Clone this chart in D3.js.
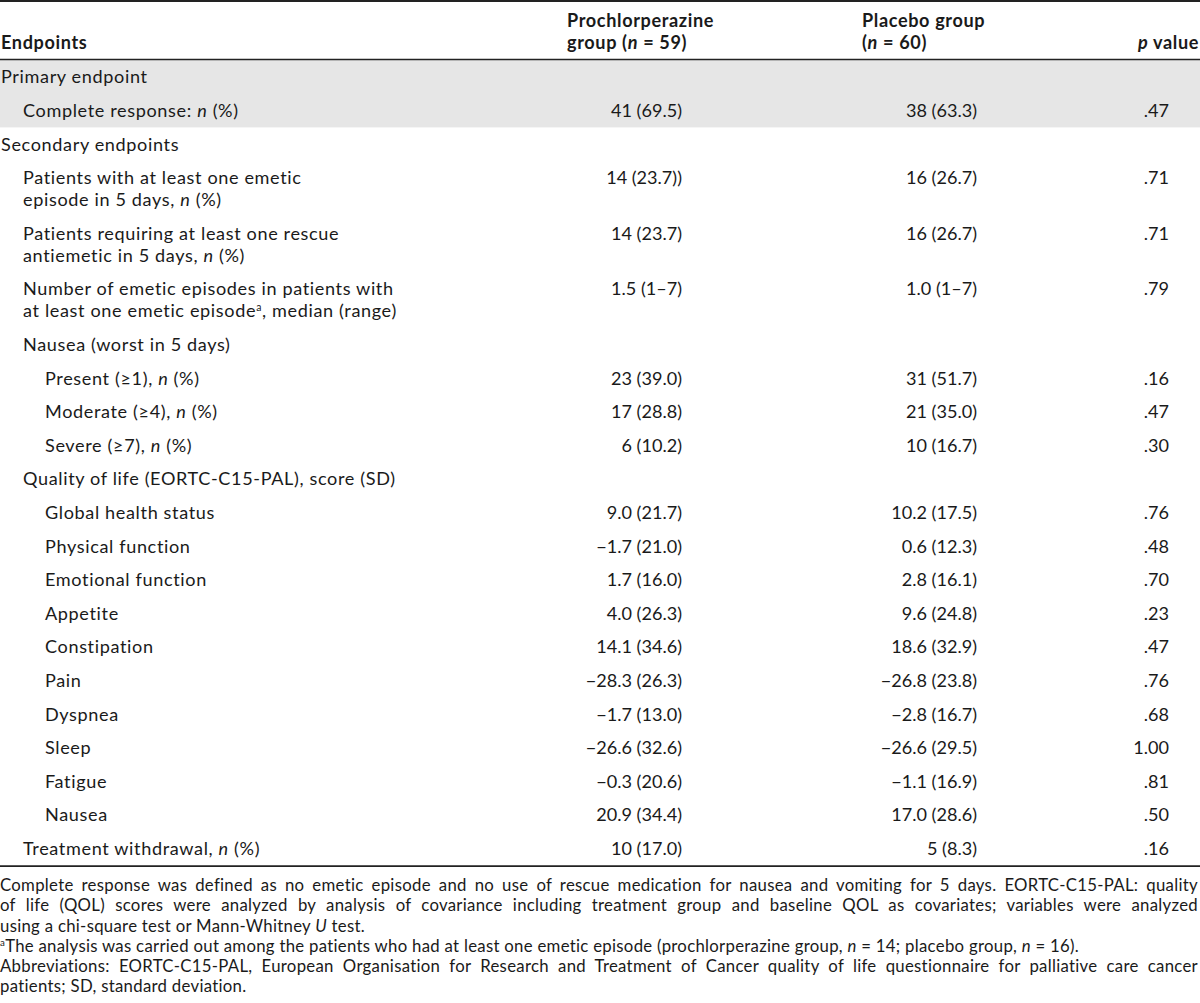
<!DOCTYPE html>
<html><head><meta charset="utf-8">
<script src="https://cdn.jsdelivr.net/npm/d3@7"></script>
<style>body{margin:0;background:#fff}svg{display:block}</style>
</head><body><div id="chart"></div>
<script>
// ---------- data ----------
const headers = ["Endpoints", "Prochlorperazine|group (*n* = 59)", "Placebo group|(*n* = 60)", "*p* value"];
const rowLabels = [
  "Primary endpoint",
  "Complete response: *n* (%)",
  "Secondary endpoints",
  "Patients with at least one emetic|episode in 5 days, *n* (%)",
  "Patients requiring at least one rescue|antiemetic in 5 days, *n* (%)",
  "Number of emetic episodes in patients with|at least one emetic episode^a^, median (range)",
  "Nausea (worst in 5 days)",
  "Present (≥1), *n* (%)",
  "Moderate (≥4), *n* (%)",
  "Severe (≥7), *n* (%)",
  "Quality of life (EORTC-C15-PAL), score (SD)",
  "Global health status",
  "Physical function",
  "Emotional function",
  "Appetite",
  "Constipation",
  "Pain",
  "Dyspnea",
  "Sleep",
  "Fatigue",
  "Nausea",
  "Treatment withdrawal, *n* (%)"
];
const rowLevels = [0,1,0,1,1,1,1,2,2,2,1,2,2,2,2,2,2,2,2,2,2,1];
const prochlorperazine = ["", "41 (69.5)", "", "14 (23.7))", "14 (23.7)", "1.5 (1–7)", "", "23 (39.0)", "17 (28.8)", "6 (10.2)", "",
  "9.0 (21.7)", "−1.7 (21.0)", "1.7 (16.0)", "4.0 (26.3)", "14.1 (34.6)", "−28.3 (26.3)", "−1.7 (13.0)", "−26.6 (32.6)", "−0.3 (20.6)", "20.9 (34.4)", "10 (17.0)"];
const placebo = ["", "38 (63.3)", "", "16 (26.7)", "16 (26.7)", "1.0 (1–7)", "", "31 (51.7)", "21 (35.0)", "10 (16.7)", "",
  "10.2 (17.5)", "0.6 (12.3)", "2.8 (16.1)", "9.6 (24.8)", "18.6 (32.9)", "−26.8 (23.8)", "−2.8 (16.7)", "−26.6 (29.5)", "−1.1 (16.9)", "17.0 (28.6)", "5 (8.3)"];
const pValues = ["", ".47", "", ".71", ".71", ".79", "", ".16", ".47", ".30", "",
  ".76", ".48", ".70", ".23", ".47", ".76", ".68", "1.00", ".81", ".50", ".16"];
const shadedRows = [0, 1];
const footnotes = [
  "Complete response was defined as no emetic episode and no use of rescue medication for nausea and vomiting for 5 days. EORTC-C15-PAL: quality",
  "of life (QOL) scores were analyzed by analysis of covariance including treatment group and baseline QOL as covariates; variables were analyzed",
  "using a chi-square test or Mann-Whitney *U* test.",
  "^a^The analysis was carried out among the patients who had at least one emetic episode (prochlorperazine group, *n* = 14; placebo group, *n* = 16).",
  "Abbreviations: EORTC-C15-PAL, European Organisation for Research and Treatment of Cancer quality of life questionnaire for palliative care cancer",
  "patients; SD, standard deviation."
];
const footnoteJustified = [true, true, false, false, true, false];

// ---------- layout ----------
const W = 1200, H = 1003;
const FONT = "Lato, 'Open Sans', sans-serif";
const INK = "#1a1a1a";
const svg = d3.select("#chart").append("svg").attr("width", W).attr("height", H)
  .style("font-family", FONT);

function measure(str, size, ls) {
  const t = svg.append("text").attr("font-size", size).attr("letter-spacing", ls || 0).text(str);
  const w = t.node().getComputedTextLength();
  t.remove();
  return w;
}
const lineGap = 22;       // leading inside a multi-line cell
const noteGap = 20.3;     // leading of the footnotes

// font sizes: match the reference text widths, but keep line boxes within the leading
const calStr = "Number of emetic episodes in patients with", calW = 398;
const bodySize = Math.min(19 * calW / measure(calStr, 19), (lineGap - 0.3) / 1.2);
const bodyLS = 0.5 * (calW - measure(calStr, bodySize)) / calStr.length;
const noteStr = "aThe analysis was carried out among the patients who had at least one emetic episode (prochlorperazine group, n = 14; placebo group, n = 16).", noteW = 1082;
const noteSize = Math.min(18 * noteW / measure(noteStr, 18), (noteGap - 0.2) / 1.2);
const noteLS = (noteW - measure(noteStr, noteSize)) / noteStr.length;

function rich(sel, str, supShift) {
  const parts = str.split(/(\*[^*]+\*|\^[^^]+\^)/).filter(s => s.length);
  parts.forEach(p => {
    if (p[0] === "*") sel.append("tspan").attr("font-style", "italic").text(p.slice(1, -1));
    else if (p[0] === "^") sel.append("tspan").attr("baseline-shift", supShift + "px").attr("font-size", "0.58em").text(p.slice(1, -1));
    else sel.append("tspan").text(p);
  });
}
// multi-line text as one <text> with one tspan per line
function multiline(parent, lines, x, yFirst, gap, anchor, supShift) {
  const t = parent.append("text").attr("x", x).attr("y", yFirst).attr("text-anchor", anchor || "start");
  return lines.map((ln, j) => {
    const ts = t.append("tspan").attr("x", x).attr("y", yFirst + j * gap).attr("dy", "0.35em");
    rich(ts, ln, supShift);
    return ts;
  });
}

// row vertical positions via linear scale on "row units"
const lineExtra = lineGap / 33.6;
const rowLines = rowLabels.map(l => l.split("|").length);
const rowStart = [];
rowLines.reduce((acc, n, i) => { rowStart[i] = acc; return acc + 1 + (n - 1) * lineExtra; }, 0);
const totalUnits = rowStart[rowStart.length - 1] + 1;
const y = d3.scaleLinear().domain([0, 1]).range([77, 110.6]);
const xIndent = d3.scaleOrdinal().domain([0, 1, 2]).range([1, 23, 45]);
const colRight = { pro: 682, pla: 977, p: 1169 };

// shaded band
const lastShade = shadedRows[shadedRows.length - 1];
const bandTop = 60, bandBottom = (y(lastShade) + y(lastShade + 1)) / 2;
svg.append("rect").attr("x", 0).attr("y", bandTop).attr("width", W).attr("height", bandBottom - bandTop).attr("fill", "#e6e6e6");

// rules
svg.append("line").attr("x1", 0).attr("x2", W).attr("y1", 1).attr("y2", 1).attr("stroke", "#222").attr("stroke-width", 2);
svg.append("line").attr("x1", 0).attr("x2", W).attr("y1", 59.5).attr("y2", 59.5).attr("stroke", "#222").attr("stroke-width", 1.6);
const tableBottom = y(totalUnits - 1) + 17.5;
svg.append("line").attr("x1", 0).attr("x2", W).attr("y1", tableBottom).attr("y2", tableBottom).attr("stroke", "#222").attr("stroke-width", 1.6);

// header
const hdr = svg.append("g").attr("font-weight", 700).attr("font-size", bodySize).attr("letter-spacing", bodyLS).attr("fill", INK);
const hdrX = [1, 567, 862, 1199];
const hdrAnchor = ["start", "start", "start", "end"];
headers.forEach((h, i) => {
  const lines = h.split("|");
  multiline(hdr, lines, hdrX[i], 43 - (lines.length - 1) * lineGap, lineGap, hdrAnchor[i], 6);
});

// body labels
const body = svg.append("g").attr("font-size", bodySize).attr("fill", INK);
const labelsG = body.append("g").attr("letter-spacing", bodyLS);
rowLabels.forEach((lab, i) => {
  multiline(labelsG, lab.split("|"), xIndent(rowLevels[i]), y(rowStart[i]), lineGap, "start", 6.5);
});
// value columns
[[prochlorperazine, colRight.pro], [placebo, colRight.pla], [pValues, colRight.p]].forEach(([arr, xr]) => {
  body.append("g").selectAll("text").data(arr.map((v, i) => ({ v, i })).filter(d => d.v))
    .join("text")
    .attr("x", xr).attr("y", d => y(rowStart[d.i])).attr("dy", "0.35em")
    .attr("text-anchor", "end").text(d => d.v);
});

// footnotes (one text block, justified lines via word-spacing)
const notes = svg.append("g").attr("font-size", noteSize).attr("letter-spacing", noteLS).attr("fill", INK);
const noteY = d3.scaleLinear().domain([0, 1]).range([tableBottom + 19, tableBottom + 19 + noteGap]);
const noteLines = multiline(notes, footnotes, 0, noteY(0), noteGap, "start", 6);
noteLines.forEach((ts, i) => {
  if (footnoteJustified[i]) {
    const w = ts.node().getComputedTextLength();
    const spaces = (footnotes[i].match(/ /g) || []).length;
    ts.attr("word-spacing", (1198 - w) / spaces);
  }
});
</script></body></html>
